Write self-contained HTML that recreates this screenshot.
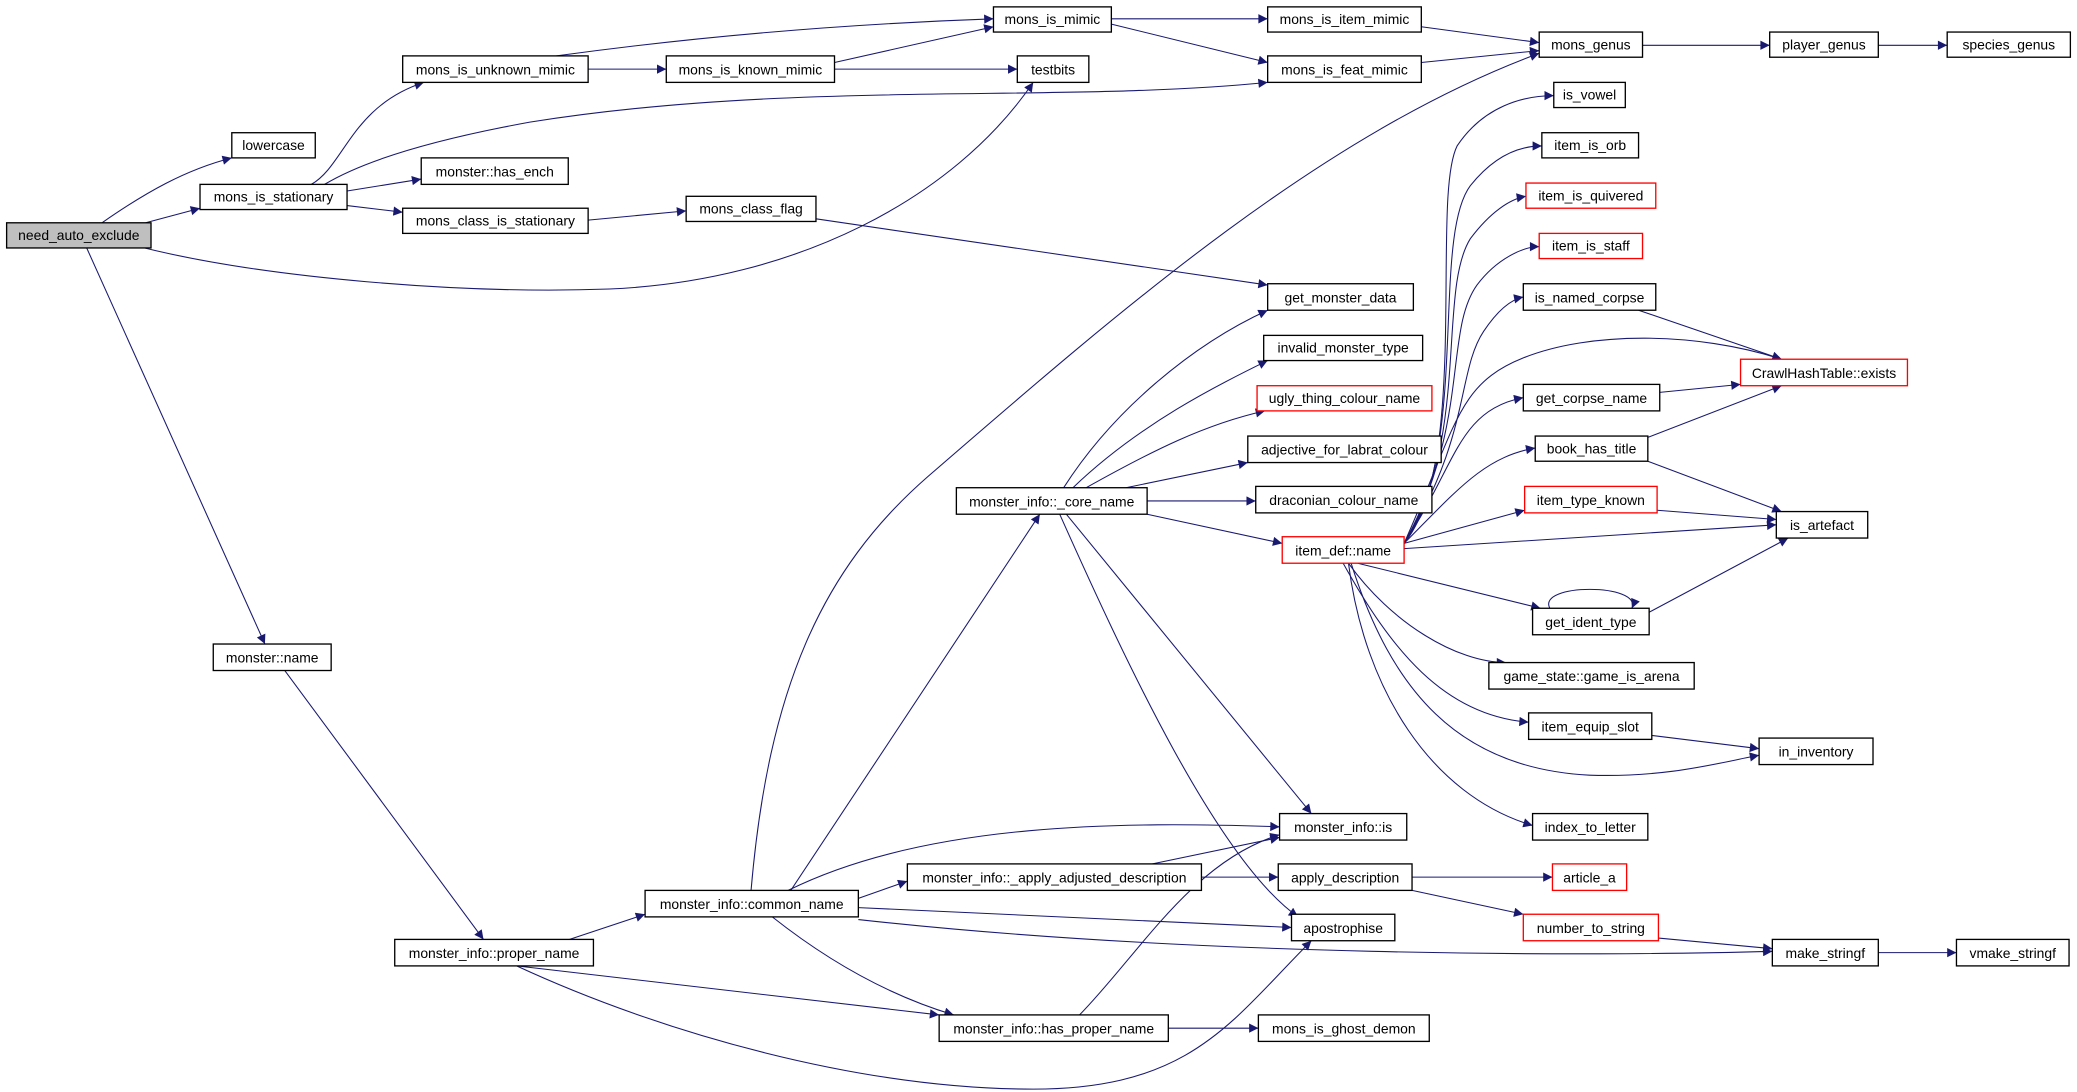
<!DOCTYPE html>
<html><head><meta charset="utf-8"><style>
html,body{margin:0;padding:0;background:#fff;}
svg{display:block;}
text{font-family:"Liberation Sans",sans-serif;font-size:10.5px;fill:#000;}
</style></head><body>
<svg width="2077" height="1092" viewBox="0 0 1568 824" xmlns="http://www.w3.org/2000/svg">
<defs><marker id="a" viewBox="0 0 10 10" refX="10" refY="5" markerWidth="10" markerHeight="7" markerUnits="userSpaceOnUse" orient="auto"><path d="M0,0 L10,5 L0,10 z" fill="#191970"/></marker></defs>
<g fill="none" stroke="#191970" stroke-width="0.8" marker-end="url(#a)">
<path d="M77,168 C110,145 140,128 175,119"/>
<path d="M110,168 L151,157"/>
<path d="M105,186 C200,210 350,222 460,218 C600,212 720,150 780,62"/>
<path d="M65,186 L200,486"/>
<path d="M235,139 C260,125 265,80 320,62"/>
<path d="M245,139 Q290,112 400,92 C600,60 800,78 957,62"/>
<path d="M262,144 L318,135"/>
<path d="M262,155 L304,160"/>
<path d="M444,166 L518,159"/>
<path d="M616,165 L957,215"/>
<path d="M444,52 L503,52"/>
<path d="M420,42 Q580,20 750,14"/>
<path d="M630,47 L750,20"/>
<path d="M630,52 L768,52"/>
<path d="M839,14 L957,14"/>
<path d="M839,18 L957,47"/>
<path d="M1073,20 L1162,32"/>
<path d="M1073,47 L1162,38"/>
<path d="M1240,34 L1336,34"/>
<path d="M1418,34 L1470,34"/>
<path d="M567,672 C580,520 620,430 700,360 C850,230 1000,100 1162,40"/>
<path d="M597,672 L785,388"/>
<path d="M595,672 C700,620 850,620 966,624"/>
<path d="M648,678 L685,665"/>
<path d="M648,685 L975,700"/>
<path d="M648,694 C900,722 1200,722 1338,718"/>
<path d="M583,692 Q650,745 720,766"/>
<path d="M430,709 L487,690"/>
<path d="M390,729 L709,766"/>
<path d="M390,729 C500,780 650,822 780,822 C900,822 930,770 990,710"/>
<path d="M215,506 L365,709"/>
<path d="M882,776 L950,776"/>
<path d="M815,766 C860,720 900,650 966,630"/>
<path d="M870,652 L966,632"/>
<path d="M907,662 L965,662"/>
<path d="M1066,662 L1172,662"/>
<path d="M1066,672 L1150,690"/>
<path d="M1252,708 L1338,716"/>
<path d="M1418,719 L1477,719"/>
<path d="M803,368 C840,310 900,260 957,234"/>
<path d="M810,368 C860,320 920,290 957,272"/>
<path d="M820,368 C870,340 910,320 955,310"/>
<path d="M850,368 L942,349"/>
<path d="M866,378 L948,378"/>
<path d="M866,388 L968,410"/>
<path d="M805,388 L990,614"/>
<path d="M800,388 C850,500 920,650 980,692"/>
<path d="M1060,410 C1110,350 1080,150 1100,110 C1120,80 1150,72 1173,72"/>
<path d="M1060,410 C1110,340 1080,180 1110,140 C1130,115 1150,110 1164,110"/>
<path d="M1060,410 C1110,330 1085,220 1110,180 C1125,160 1140,150 1152,148"/>
<path d="M1060,410 C1110,320 1090,250 1115,215 C1130,195 1150,186 1162,186"/>
<path d="M1060,410 C1110,330 1100,280 1120,250 C1130,235 1140,226 1150,224"/>
<path d="M1060,410 C1100,320 1100,290 1150,270 C1200,250 1280,250 1345,271"/>
<path d="M1060,410 C1100,350 1100,310 1150,300"/>
<path d="M1060,410 C1100,370 1120,345 1159,338"/>
<path d="M1060,410 L1151,385"/>
<path d="M1060,414 L1341,396"/>
<path d="M1025,425 L1163,459"/>
<path d="M1018,425 C1050,470 1100,500 1137,500"/>
<path d="M1014,425 C1050,490 1090,540 1154,545"/>
<path d="M1020,425 C1050,520 1100,580 1200,585 C1260,587 1300,575 1328,570"/>
<path d="M1018,425 C1030,520 1080,600 1157,623"/>
<path d="M1237,234 L1345,271"/>
<path d="M1253,296 L1314,290"/>
<path d="M1244,330 L1345,291"/>
<path d="M1244,348 L1345,386"/>
<path d="M1251,385 L1341,392"/>
<path d="M1245,462 L1350,406"/>
<path d="M1170,459 C1160,440 1240,440 1232,459"/>
<path d="M1247,555 L1328,565"/>
</g>
<g stroke-width="1">
<rect x="5" y="168" width="109" height="19" fill="#bfbfbf" stroke="#000"/>
</g>
<g fill="#fff" stroke="#000" stroke-width="1">
<rect x="175" y="100" width="63" height="19"/>
<rect x="151" y="139" width="111" height="19"/>
<rect x="304" y="42" width="140" height="20"/>
<rect x="318" y="119" width="111" height="20"/>
<rect x="304" y="157" width="140" height="19"/>
<rect x="750" y="5" width="89" height="19"/>
<rect x="503" y="42" width="127" height="20"/>
<rect x="768" y="42" width="54" height="20"/>
<rect x="518" y="148" width="98" height="19"/>
<rect x="957" y="5" width="116" height="19"/>
<rect x="957" y="42" width="116" height="20"/>
<rect x="1162" y="24" width="78" height="19"/>
<rect x="1336" y="24" width="82" height="19"/>
<rect x="1470" y="24" width="93" height="19"/>
<rect x="957" y="214" width="110" height="20"/>
<rect x="954" y="253" width="120" height="19"/>
<rect x="942" y="329" width="146" height="20"/>
<rect x="948" y="367" width="133" height="20"/>
<rect x="722" y="368" width="144" height="20"/>
<rect x="1173" y="62" width="54" height="19"/>
<rect x="1164" y="100" width="73" height="19"/>
<rect x="1150" y="214" width="100" height="20"/>
<rect x="1150" y="290" width="103" height="20"/>
<rect x="1159" y="329" width="85" height="19"/>
<rect x="1341" y="386" width="69" height="20"/>
<rect x="1157" y="459" width="88" height="20"/>
<rect x="1124" y="500" width="155" height="20"/>
<rect x="1154" y="538" width="93" height="20"/>
<rect x="1328" y="557" width="86" height="20"/>
<rect x="1157" y="614" width="87" height="20"/>
<rect x="966" y="614" width="96" height="20"/>
<rect x="685" y="652" width="222" height="20"/>
<rect x="965" y="652" width="101" height="20"/>
<rect x="487" y="672" width="161" height="20"/>
<rect x="975" y="690" width="78" height="20"/>
<rect x="1338" y="709" width="80" height="20"/>
<rect x="1477" y="709" width="85" height="20"/>
<rect x="298" y="709" width="150" height="20"/>
<rect x="709" y="766" width="173" height="20"/>
<rect x="950" y="766" width="129" height="20"/>
<rect x="161" y="486" width="89" height="20"/>
</g>
<g fill="#fff" stroke="#ff0000" stroke-width="1">
<rect x="949" y="291" width="132" height="19"/>
<rect x="968" y="405" width="92" height="20"/>
<rect x="1152" y="138" width="98" height="19"/>
<rect x="1162" y="176" width="78" height="19"/>
<rect x="1151" y="367" width="100" height="20"/>
<rect x="1314" y="271" width="126" height="20"/>
<rect x="1172" y="652" width="56" height="20"/>
<rect x="1150" y="690" width="102" height="20"/>
</g>
<g text-anchor="middle">
<text x="59.5" y="181">need_auto_exclude</text>
<text x="206.5" y="113">lowercase</text>
<text x="206.5" y="152">mons_is_stationary</text>
<text x="374" y="56">mons_is_unknown_mimic</text>
<text x="373.5" y="133">monster::has_ench</text>
<text x="374" y="170">mons_class_is_stationary</text>
<text x="794.5" y="18">mons_is_mimic</text>
<text x="566.5" y="56">mons_is_known_mimic</text>
<text x="795" y="56">testbits</text>
<text x="567" y="161">mons_class_flag</text>
<text x="1015" y="18">mons_is_item_mimic</text>
<text x="1015" y="56">mons_is_feat_mimic</text>
<text x="1201" y="37">mons_genus</text>
<text x="1377" y="37">player_genus</text>
<text x="1516.5" y="37">species_genus</text>
<text x="1012" y="228">get_monster_data</text>
<text x="1014" y="266">invalid_monster_type</text>
<text x="1015" y="304">ugly_thing_colour_name</text>
<text x="1015" y="343">adjective_for_labrat_colour</text>
<text x="1014.5" y="381">draconian_colour_name</text>
<text x="1014" y="419">item_def::name</text>
<text x="794" y="382">monster_info::_core_name</text>
<text x="1200" y="75">is_vowel</text>
<text x="1200.5" y="113">item_is_orb</text>
<text x="1201" y="151">item_is_quivered</text>
<text x="1201" y="189">item_is_staff</text>
<text x="1200" y="228">is_named_corpse</text>
<text x="1201.5" y="304">get_corpse_name</text>
<text x="1201.5" y="342">book_has_title</text>
<text x="1201" y="381">item_type_known</text>
<text x="1377" y="285">CrawlHashTable::exists</text>
<text x="1375.5" y="400">is_artefact</text>
<text x="1201" y="473">get_ident_type</text>
<text x="1201.5" y="514">game_state::game_is_arena</text>
<text x="1200.5" y="552">item_equip_slot</text>
<text x="1371" y="571">in_inventory</text>
<text x="1200.5" y="628">index_to_letter</text>
<text x="1014" y="628">monster_info::is</text>
<text x="796" y="666">monster_info::_apply_adjusted_description</text>
<text x="1015.5" y="666">apply_description</text>
<text x="1200" y="666">article_a</text>
<text x="567.5" y="686">monster_info::common_name</text>
<text x="1014" y="704">apostrophise</text>
<text x="1201" y="704">number_to_string</text>
<text x="1378" y="723">make_stringf</text>
<text x="1519.5" y="723">vmake_stringf</text>
<text x="373" y="723">monster_info::proper_name</text>
<text x="795.5" y="780">monster_info::has_proper_name</text>
<text x="1014.5" y="780">mons_is_ghost_demon</text>
<text x="205.5" y="500">monster::name</text>
</g>
</svg>
</body></html>
